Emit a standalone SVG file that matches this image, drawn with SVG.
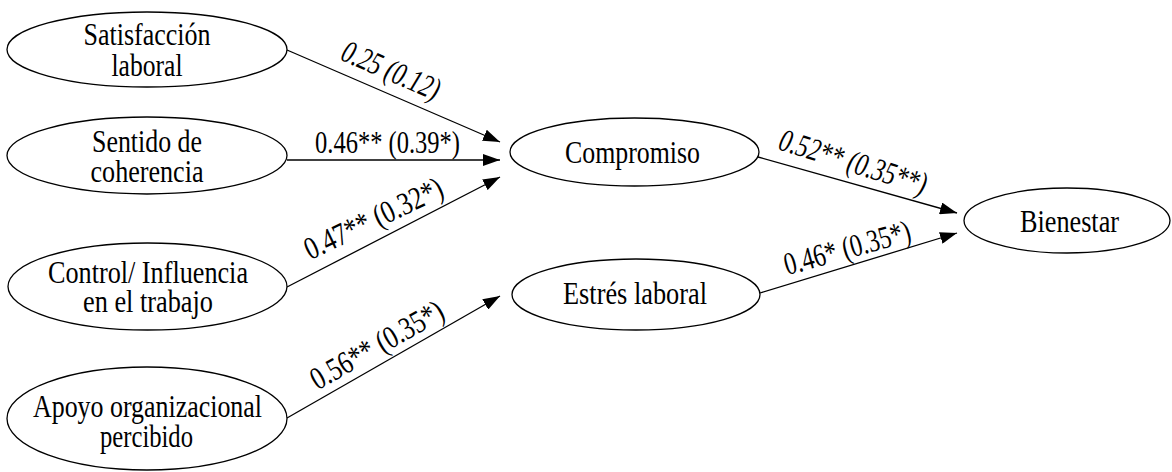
<svg xmlns="http://www.w3.org/2000/svg" width="1172" height="472" viewBox="0 0 1172 472">
<style>
.node ellipse{fill:#fff;stroke:#000;stroke-width:1.3}
text{font-family:"Liberation Serif","Times New Roman",serif;font-size:32px;fill:#000;text-anchor:middle}
.it{font-style:italic}
.edge{stroke:#000;stroke-width:1.3;fill:none;marker-end:url(#ah)}
</style>
<defs>
<marker id="ah" viewBox="0 0 17 12" refX="17" refY="6" markerWidth="17" markerHeight="12" markerUnits="userSpaceOnUse" orient="auto">
<path d="M0,0 L17,6 L0,12 z" fill="#000"/>
</marker>
</defs>
<g id="connectors">
<line class="edge" x1="287" y1="50" x2="500" y2="142"/>
<line class="edge" x1="287" y1="160" x2="500" y2="160"/>
<line class="edge" x1="287" y1="287" x2="500" y2="177"/>
<line class="edge" x1="287" y1="418" x2="500" y2="296"/>
<line class="edge" x1="758" y1="157" x2="957" y2="213"/>
<line class="edge" x1="760" y1="293" x2="957" y2="233"/>
<text class="it" transform="translate(387,80) rotate(23.5)" textLength="104" lengthAdjust="spacingAndGlyphs">0.25 (0.12)</text>
<text transform="translate(387.5,153)" textLength="145" lengthAdjust="spacingAndGlyphs">0.46** (0.39*)</text>
<text transform="translate(378,228) rotate(-25.5)" textLength="150" lengthAdjust="spacingAndGlyphs">0.47** (0.32*)</text>
<text transform="translate(382,354) rotate(-29.5)" textLength="148" lengthAdjust="spacingAndGlyphs">0.56** (0.35*)</text>
<text class="it" transform="translate(850,172) rotate(17.5)" textLength="153" lengthAdjust="spacingAndGlyphs">0.52** (0.35**)</text>
<text transform="translate(850,258) rotate(-15.5)" textLength="130" lengthAdjust="spacingAndGlyphs">0.46* (0.35*)</text>
</g>
<g id="satisfaccion" class="node">
<ellipse cx="147" cy="49.5" rx="140" ry="37.5"/>
<text x="147" y="45" textLength="127" lengthAdjust="spacingAndGlyphs">Satisfacción</text>
<text x="147" y="76" textLength="71" lengthAdjust="spacingAndGlyphs">laboral</text>
</g>
<g id="sentido" class="node">
<ellipse cx="147" cy="155.5" rx="140" ry="38.5"/>
<text x="147" y="152" textLength="110" lengthAdjust="spacingAndGlyphs">Sentido de</text>
<text x="147" y="182" textLength="113" lengthAdjust="spacingAndGlyphs">coherencia</text>
</g>
<g id="control" class="node">
<ellipse cx="147.5" cy="286.5" rx="139.5" ry="43.5"/>
<text x="148" y="283" textLength="200" lengthAdjust="spacingAndGlyphs">Control/ Influencia</text>
<text x="148" y="312" textLength="130" lengthAdjust="spacingAndGlyphs">en el trabajo</text>
</g>
<g id="apoyo" class="node">
<ellipse cx="147" cy="418.5" rx="140" ry="51.5"/>
<text x="147.5" y="417" textLength="229" lengthAdjust="spacingAndGlyphs">Apoyo organizacional</text>
<text x="146.5" y="447" textLength="93" lengthAdjust="spacingAndGlyphs">percibido</text>
</g>
<g id="compromiso" class="node">
<ellipse cx="634.5" cy="152" rx="124.5" ry="34"/>
<text x="632.5" y="163" textLength="135" lengthAdjust="spacingAndGlyphs">Compromiso</text>
</g>
<g id="estres" class="node">
<ellipse cx="636" cy="294.5" rx="124" ry="35.5"/>
<text x="635" y="304" textLength="144" lengthAdjust="spacingAndGlyphs">Estrés laboral</text>
</g>
<g id="bienestar" class="node">
<ellipse cx="1067" cy="220.5" rx="103" ry="32.5"/>
<text x="1069.5" y="232" textLength="99" lengthAdjust="spacingAndGlyphs">Bienestar</text>
</g>
</svg>
